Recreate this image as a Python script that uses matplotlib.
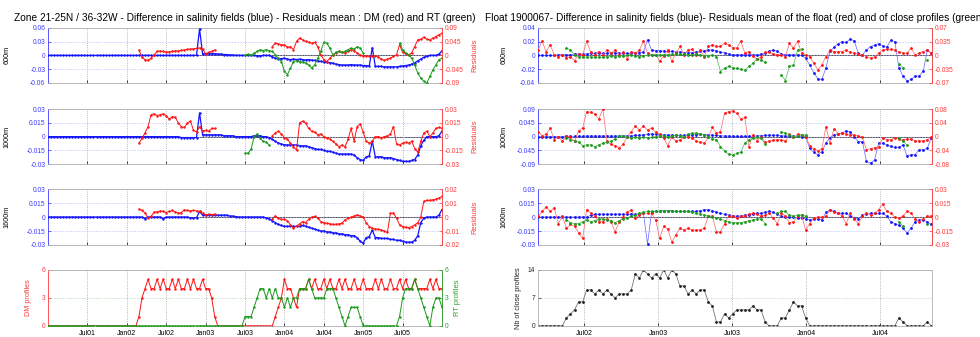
import numpy as np
import matplotlib
matplotlib.use("Agg")
import matplotlib.pyplot as plt

plt.rcParams["font.family"] = ["Liberation Sans", "DejaVu Sans"]
plt.rcParams["axes.unicode_minus"] = False

nan = np.nan

# ---------------- left panel: zone 21-25N / 36-32W (biweekly, 2001-2006)
zone_t = 2001 + np.arange(131) / 26.0

zone_blue_600 = ([0.0] * 50 +
    [0.058, 0.003, 0.004, 0.004, 0.004, 0.004, 0.003, 0.003, 0.002, 0.002,
     0.001, 0.001, 0.0, 0.0, 0.0, 0.0] +
    [0.0, 0.0, 0.0, -0.001, -0.001, 0.0, 0.0, 0.0] +
    [-0.003, -0.006, -0.007, -0.007, -0.006, -0.008, -0.009, -0.008, -0.009, -0.008,
     -0.009, -0.010, -0.009, -0.010, -0.011, -0.012, -0.013, -0.014, -0.015, -0.016,
     -0.017, -0.019, -0.020, -0.021, -0.021, -0.021, -0.020, -0.021, -0.021, -0.021,
     -0.022, -0.022, -0.023, 0.017, -0.024, -0.024, -0.024, -0.025, -0.025, -0.025,
     -0.025, -0.025, -0.024, -0.023, -0.022, -0.021, -0.019, -0.016, -0.012, -0.008,
     -0.004, -0.002, 0.0, 0.0, 0.0, 0.003, 0.010])
zone_red_600 = ([nan] * 30 +
    [0.018, -0.005, -0.014, -0.016, -0.009, 0.002, 0.013, 0.015, 0.013, 0.011,
     0.012, 0.013, 0.015, 0.015, 0.017, 0.018, 0.020, 0.021, 0.022, 0.023,
     0.025, 0.021, 0.005, 0.010, 0.013, 0.018] +
    [nan] * 18 +
    [0.029, 0.040, 0.038, 0.035, 0.035, 0.027, 0.029, 0.019, 0.046, 0.057,
     0.051, 0.046, 0.043, 0.040, 0.043, 0.029, 0.002, -0.014, -0.020, -0.009,
     0.002, 0.008, 0.013, 0.010, 0.008, 0.013, 0.019, 0.016, 0.008, 0.002,
     -0.003, -0.001, -0.003, -0.003, -0.001, -0.005, -0.012, -0.016, -0.012, -0.009,
     -0.003, 0.002, 0.035, 0.010, 0.005, 0.002, 0.008, 0.029, 0.051, 0.053,
     0.060, 0.053, 0.051, 0.057, 0.062, 0.068, 0.073])
zone_green_600 = ([nan] * 65 +
    [0.002, 0.004, 0.0, 0.008, 0.013, 0.019, 0.016, 0.019, 0.016, 0.013,
     0.002, -0.009, -0.020, -0.052, -0.063, -0.041, -0.020, -0.017, -0.020, -0.022,
     -0.025, -0.031, -0.041, -0.031, -0.009, 0.013, 0.043, 0.040, 0.024, 0.002,
     0.010, 0.013, 0.010, 0.013, 0.019, 0.024, 0.021, 0.029, 0.024, 0.008] +
    [nan] * 11 +
    [0.040, 0.019, 0.008, 0.002, -0.009, -0.031, -0.058, -0.074, -0.085, -0.090,
     -0.069, -0.047, -0.031, -0.014, -0.009])

zone_blue_1000 = ([0.0] * 44 + [-0.001] * 6 + [0.026] +
    [0.002] * 7 + [0.001] * 4 + [0.0, 0.0] +
    [0.0, 0.0, 0.0, 0.0, 0.001, 0.001, 0.001, 0.0, 0.0, -0.001] +
    [-0.003, -0.005, -0.007, -0.008, -0.009, -0.009, -0.009, -0.009, -0.009, -0.010,
     -0.010, -0.010, -0.011, -0.012, -0.013, -0.014, -0.014, -0.015, -0.016, -0.016,
     -0.017, -0.018, -0.019, -0.019, -0.019, -0.019, -0.019, -0.020, -0.023, -0.025,
     -0.026, -0.022, -0.021, -0.005, -0.022, -0.022, -0.022, -0.023, -0.023, -0.023,
     -0.024, -0.025, -0.026, -0.027, -0.027, -0.027, -0.026, -0.025, -0.020, -0.010,
     -0.004, 0.0, 0.0, 0.0, 0.0, 0.001, 0.006])
zone_red_1000 = ([nan] * 30 +
    [-0.007, -0.002, 0.004, 0.011, 0.024, 0.025, 0.023, 0.024, 0.025, 0.023,
     0.019, 0.022, 0.021, 0.015, 0.011, 0.010, 0.015, 0.017, 0.007, 0.005,
     0.011, 0.006, 0.007, 0.006, 0.009, 0.009] +
    [nan] * 18 +
    [0.001, 0.004, 0.006, 0.003, -0.001, -0.003, -0.007, -0.011, -0.015, 0.015,
     0.017, 0.015, 0.009, 0.006, 0.005, 0.002, 0.003, 0.0, -0.001, -0.003,
     -0.005, -0.008, -0.011, -0.009, -0.011, -0.003, 0.009, -0.005, 0.011, 0.014,
     0.005, -0.005, -0.007, -0.005, 0.0, 0.0, -0.001, 0.0, 0.001, 0.003,
     0.011, -0.008, -0.009, -0.007, -0.006, -0.007, -0.005, -0.013, -0.017, -0.005,
     0.004, 0.006, 0.0, 0.004, 0.009, 0.010, 0.009])
zone_green_1000 = ([nan] * 65 +
    [-0.018, -0.018, -0.014, 0.0, 0.003, -0.002, -0.005, -0.006, -0.009] +
    [nan] * 57)

zone_blue_1600 = ([0.0] * 32 + [-0.002] + [0.0] * 5 + [-0.002] + [0.0] * 8 +
    [-0.001] * 3 + [0.006] + [0.002] * 9 + [0.001, 0.001, 0.0005, 0.0, 0.0] +
    [0.0] * 7 + [-0.001] +
    [-0.002, -0.004, -0.006, -0.008, -0.009, -0.010, -0.010, -0.010, -0.010, -0.010,
     -0.010, -0.009, -0.010, -0.011, -0.012, -0.013, -0.014, -0.015, -0.015, -0.016,
     -0.016, -0.017, -0.017, -0.018, -0.018, -0.019, -0.019, -0.020, -0.020, -0.022,
     -0.026, -0.028, -0.022, -0.021, -0.014, -0.022, -0.022, -0.023, -0.023, -0.023,
     -0.024, -0.024, -0.025, -0.025, -0.026, -0.027, -0.027, -0.027, -0.025, -0.020,
     -0.006, -0.001, 0.0, 0.0, 0.0, 0.0, 0.002, 0.008])
zone_red_1600 = ([nan] * 30 +
    [0.0056, 0.0047, 0.0028, -0.0008, 0.0004, 0.0035, 0.0037, 0.0044, 0.0040, 0.0032,
     0.0040, 0.0047, 0.0037, 0.0028, 0.0032, 0.0052, 0.0047, 0.0044, 0.0047, 0.0044,
     0.0040, 0.0028, 0.0016, 0.0020, 0.0018, 0.0020] +
    [nan] * 18 +
    [-0.0016, 0.0008, -0.0010, -0.0016, -0.0016, -0.0025, -0.0056, -0.0080, -0.0064, -0.0049,
     -0.0032, -0.0040, -0.0016, -0.0001, 0.0004, -0.0008, -0.0032, -0.0040, -0.0044, -0.0049,
     -0.0052, -0.0052, -0.0049, -0.0044, -0.0020, -0.0008, -0.0001, 0.0008, 0.0016, 0.0008,
     0.0000, -0.0040, -0.0068, -0.0080, -0.0085, -0.0088, -0.0092, -0.0100, -0.0110, 0.0028,
     0.0028, -0.0008, -0.0056, -0.0068, -0.0073, -0.0076, -0.0068, -0.0056, -0.0040, -0.0001,
     0.0112, 0.0119, 0.0119, 0.0124, 0.0128, 0.0136, 0.0148])

zone_dm = ([0] * 30 +
    [1, 3, 4, 5, 4, 4, 5, 4, 5, 4, 4, 5, 4, 5, 4, 4, 5, 4, 5, 4, 4, 5, 4, 4, 3, 1] +
    [0] * 19 +
    [1, 2, 3, 5, 4, 4, 3, 2, 4, 4, 4, 5, 4, 5, 4, 4, 5, 4, 5, 4, 4, 5, 4, 5, 4, 4,
     5, 4, 4, 5, 4, 4, 4, 5, 4, 5, 4, 4, 5, 4, 4, 5, 4, 5, 4, 4, 5, 4, 4, 4, 4, 5,
     4, 5, 4, 4])
zone_rt = ([0] * 65 +
    [1, 1, 1, 2, 3, 4, 4, 3, 4, 3, 4, 3, 3, 2, 3, 2, 3, 3, 4, 4,
     4, 5, 4, 3, 3, 3, 3, 4, 4, 4, 3, 2, 1, 0, 1, 2, 2, 2, 1, 0] +
    [0] * 11 +
    [1, 3, 4, 4, 4, 5, 4, 3, 2, 1, 0, 2, 3, 3, 2])

zone_ticks = [2001.5, 2002.0, 2002.5, 2003.0, 2003.5, 2004.0, 2004.5, 2005.0, 2005.5]
zone_labels = ["Jul01", "Jan02", "Jul02", "Jan03", "Jul03", "Jan04", "Jul04", "Jan05", "Jul05"]

# ---------------- right panel: float 1900067 (10-day cycles)
float_t = 2002.19 + np.arange(98) * 10 / 365.25

float_blue_600 = [
    0, 0, 0, 0, 0, 0.001, 0.001, 0.001, 0.001, 0.002,
    0.002, 0.002, 0.002, 0.003, 0.003, 0.003, 0.003, 0.003, 0.004, 0.004,
    0.003, 0.003, 0.003, 0.003, 0.004, 0.004, 0.005, 0.023, 0.008, 0.007,
    0.007, 0.006, 0.006, 0.006, 0.005, 0.005, 0.004, 0.004, 0.004, 0.005,
    0.006, 0.007, 0.008, 0.008, 0.007, 0.005, 0.004, 0.002, 0.001, 0.001,
    0.001, 0.001, 0.001, 0.001, 0.001, 0.002, 0.003, 0.006, 0.008, 0.006,
    0.002, 0.001, 0.001, 0.001, 0.001, 0.0, -0.004, -0.014, -0.025, -0.034,
    -0.035, -0.018, 0.006, 0.012, 0.017, 0.020, 0.019, 0.024, 0.021, 0.003,
    0.001, 0.008, 0.013, 0.015, 0.017, 0.014, 0.012, 0.022, 0.020, -0.018,
    -0.030, -0.037, -0.035, -0.030, -0.030, -0.023, 0.008, 0.003]
float_red_600 = [
    0.014, 0.036, 0.010, 0.027, 0.002, -0.003, 0.002, -0.007, -0.003, -0.013,
    0.004, 0.002, 0.036, 0.008, 0.002, 0.010, 0.002, 0.014, 0.006, 0.014,
    0.002, 0.008, -0.009, 0.010, 0.006, 0.013, 0.036, 0.006, 0.002, 0.002,
    -0.015, -0.001, 0.014, -0.015, 0.006, 0.023, 0.002, 0.014, 0.016, 0.002,
    0.013, -0.003, 0.023, 0.027, 0.023, 0.023, 0.031, 0.027, 0.020, 0.019,
    0.036, 0.006, 0.010, -0.001, -0.009, -0.004, 0.008, 0.008, 0.004, 0.002,
    0.002, -0.003, 0.031, 0.019, 0.036, 0.006, 0.002, -0.003, -0.020, -0.036,
    -0.024, -0.003, 0.014, 0.010, 0.010, 0.010, 0.014, 0.008, 0.006, 0.004,
    0.002, -0.003, -0.007, -0.003, 0.006, 0.014, 0.016, 0.016, 0.014, 0.008,
    0.006, 0.006, 0.019, 0.002, 0.006, 0.010, 0.014, 0.006]
float_green_600 = [
    nan, nan, nan, nan, nan, nan, nan, 0.019, 0.014, 0.002,
    -0.003, -0.004, -0.004, -0.004, -0.005, -0.004, -0.005, -0.003, -0.001, -0.003,
    -0.001, -0.001, 0.001, 0.0, -0.001, -0.003, -0.001, 0.0, 0.002, 0.002,
    0.001, 0.002, 0.002, 0.003, 0.003, 0.003, 0.003, 0.002, 0.002, 0.003,
    0.002, -0.001, -0.001, 0.001, -0.003, -0.041, -0.032, -0.028, -0.031, -0.033,
    -0.035, -0.038, -0.028, -0.020, -0.008, -0.011, -0.016, nan, nan, nan,
    -0.049, -0.064, -0.028, -0.025, 0.014, 0.016, nan, nan, nan, nan,
    nan, nan, nan, nan, nan, nan, nan, nan, nan, nan,
    nan, nan, nan, nan, nan, nan, nan, nan, nan, -0.022,
    -0.032, nan, nan, nan, nan, nan, -0.011, nan]

float_blue_1000 = [
    0, 0, 0, 0, 0, 0, 0, 0.001, 0.001, 0.001,
    0.001, 0.001, 0.002, 0.002, 0.002, 0.002, 0.002, 0.002, 0.002, 0.002,
    0.002, 0.002, 0.003, 0.003, 0.004, 0.005, 0.006, 0.008, 0.009, 0.008,
    0.007, 0.006, 0.005, 0.005, 0.004, 0.004, 0.004, 0.005, 0.006, 0.007,
    0.008, 0.007, 0.006, 0.005, 0.004, 0.003, 0.002, 0.002, 0.001, 0.001,
    0.001, 0.001, 0.001, 0.002, 0.002, 0.003, 0.004, 0.005, 0.005, 0.004,
    0.003, 0.002, 0.001, 0.001, 0.001, 0.0, 0.0, -0.038, -0.051, -0.059,
    -0.049, -0.021, -0.003, 0.006, 0.008, 0.011, 0.019, 0.015, 0.0, -0.016,
    -0.016, -0.081, -0.087, -0.076, -0.021, -0.021, -0.027, -0.032, -0.035, -0.035,
    -0.027, -0.063, -0.059, -0.059, -0.043, -0.043, -0.038, -0.003]
float_red_1000 = [
    0.015, 0.003, 0.007, 0.025, -0.009, 0.0, -0.014, 0.003, -0.002, -0.014,
    0.017, 0.025, 0.073, 0.071, 0.065, 0.052, 0.081, -0.014, -0.022, -0.026,
    -0.032, -0.022, 0.0, 0.015, 0.030, 0.020, 0.030, 0.020, 0.025, 0.013,
    0.007, -0.004, -0.026, 0.0, -0.014, -0.009, -0.002, 0.0, -0.004, -0.012,
    -0.017, -0.019, -0.002, 0.027, 0.010, 0.015, 0.068, 0.073, 0.075, 0.068,
    0.052, 0.056, -0.029, 0.005, -0.012, 0.0, -0.017, -0.014, -0.010, -0.009,
    -0.009, -0.014, 0.007, -0.002, 0.007, 0.005, 0.0, -0.026, -0.036, -0.041,
    -0.035, 0.028, -0.019, 0.023, 0.009, 0.010, 0.007, 0.005, 0.005, 0.002,
    0.0, -0.038, -0.035, -0.032, -0.029, -0.004, -0.009, -0.009, -0.004, -0.007,
    -0.009, -0.007, -0.007, -0.012, -0.012, -0.012, -0.009, 0.0]
float_green_1000 = [
    nan, nan, nan, nan, nan, nan, nan, -0.004, -0.009, -0.012,
    -0.016, -0.026, -0.024, -0.024, -0.029, -0.024, -0.019, -0.016, -0.014, -0.006,
    0.003, 0.002, -0.002, -0.004, -0.002, -0.004, -0.002, -0.004, -0.002, 0.0,
    0.002, 0.003, 0.0, 0.001, 0.005, 0.003, 0.0, 0.007, 0.010, 0.010,
    0.008, 0.005, 0.0, -0.006, -0.009, -0.029, -0.041, -0.051, -0.053, -0.049,
    -0.045, -0.019, -0.009, -0.004, 0.0, -0.004, -0.022, nan, nan, nan,
    0.013, 0.010, 0.005, 0.0, 0.002, 0.005, 0.005, nan, nan, nan,
    nan, nan, nan, nan, nan, nan, nan, nan, nan, nan,
    nan, nan, nan, nan, nan, nan, nan, nan, nan, -0.004,
    -0.014, -0.024, nan, nan, nan, nan, nan, nan]

float_blue_1600 = [
    0, 0, 0, 0, 0, 0, 0, 0, 0, 0,
    0, 0, 0, 0.002, 0.003, 0.003, 0.003, 0.003, 0.003, 0.003,
    0.003, 0.003, 0.003, 0.003, 0.003, 0.003, 0.004, -0.029, 0.005, 0.006,
    0.006, 0.007, 0.007, 0.007, 0.006, 0.006, 0.006, 0.006, 0.006, 0.006,
    0.007, 0.008, 0.008, 0.007, 0.005, 0.004, 0.003, 0.002, 0.001, 0.001,
    0.001, 0.002, 0.002, 0.003, 0.004, 0.004, 0.005, 0.006, 0.005, 0.003,
    0.001, 0.0, 0.0, 0.0, -0.001, -0.001, -0.002, -0.003, -0.002, -0.002,
    -0.003, 0.005, 0.008, 0.006, 0.004, 0.004, 0.004, 0.001, -0.001, -0.002,
    0.002, 0.003, 0.004, 0.004, 0.004, 0.004, 0.001, -0.005, -0.007, -0.009,
    -0.012, -0.017, -0.012, -0.005, -0.003, -0.003, -0.005, -0.008]
float_red_1600 = [
    0.001, 0.006, 0.011, 0.006, 0.010, -0.007, 0.001, -0.012, -0.008, -0.010,
    -0.017, -0.023, 0.008, 0.004, 0.001, -0.005, -0.005, -0.002, -0.005, -0.016,
    -0.005, 0.0, 0.005, 0.008, -0.001, 0.002, 0.004, 0.004, 0.004, -0.003,
    -0.023, -0.010, -0.013, -0.027, -0.019, -0.012, -0.014, -0.012, -0.014, -0.014,
    -0.014, -0.012, 0.001, 0.001, -0.016, -0.016, -0.007, 0.001, 0.001, -0.001,
    0.001, 0.001, 0.003, 0.004, 0.003, 0.001, 0.002, 0.004, -0.001, -0.007,
    0.004, 0.001, -0.006, -0.005, 0.001, 0.002, -0.014, -0.007, -0.001, 0.0,
    0.0, 0.001, 0.008, 0.005, 0.004, 0.001, -0.007, 0.004, -0.002, -0.007,
    0.001, 0.004, 0.002, 0.004, 0.008, 0.014, 0.006, 0.004, 0.0, -0.001,
    0.001, 0.006, 0.004, -0.002, -0.005, -0.002, 0.001, 0.001]
float_green_1600 = [
    nan, nan, nan, nan, nan, nan, nan, -0.003, -0.006, -0.007,
    -0.007, -0.005, -0.003, -0.005, -0.004, -0.002, -0.002, -0.003, -0.004, -0.006,
    -0.004, -0.002, -0.001, 0.001, 0.002, 0.004, 0.005, 0.006, 0.006, 0.006,
    0.006, 0.007, 0.007, 0.006, 0.006, 0.006, 0.006, 0.006, 0.005, 0.004,
    0.003, 0.002, 0.001, 0.0, -0.001, -0.002, -0.004, -0.005, -0.006, -0.006,
    -0.006, -0.005, -0.004, -0.003, -0.002, -0.002, -0.007, nan, nan, 0.004,
    0.006, 0.006, 0.002, 0.001, 0.002, 0.002, 0.001, nan, nan, nan,
    nan, nan, nan, nan, nan, nan, nan, nan, nan, nan,
    nan, nan, nan, nan, nan, nan, nan, nan, nan, -0.005,
    -0.010, nan, nan, nan, nan, nan, -0.008, nan]

float_close = [
    0, 0, 0, 0, 0, 0, 0, 2, 3, 4,
    6, 6, 9, 9, 8, 9, 8, 9, 8, 7,
    8, 8, 8, 9, 13, 12, 14, 13, 12, 13,
    12, 14, 12, 14, 13, 10, 10, 8, 9, 8,
    9, 9, 6, 5, 1, 1, 3, 2, 3, 4,
    4, 4, 4, 5, 4, 4, 1, 0, 0, 0,
    2, 2, 4, 6, 5, 5, 2, 0, 0, 0,
    0, 0, 0, 0, 0, 0, 0, 0, 0, 0,
    0, 0, 0, 0, 0, 0, 0, 0, 0, 2,
    1, 0, 0, 0, 0, 0, 1, 0]

float_ticks = [2002.5, 2003.0, 2003.5, 2004.0, 2004.5]
float_labels = ["Jul02", "Jan03", "Jul03", "Jan04", "Jul04"]

BLUE, RED, GREEN = "#1414ff", "#ff1414", "#1a9a1a"
TICK_FS = 4.8
TITLE_FS = 7.3


def base_axes(fig, rect, xlim, xticks, xlabels, show_xlabels):
    ax = fig.add_axes(rect)
    ax.set_xlim(*xlim)
    ax.set_xticks(xticks)
    ax.set_xticklabels(xlabels if show_xlabels else [])
    ax.grid(axis="x", ls=":", color="#a0a0a0", lw=0.6)
    ax.grid(axis="y", ls=(0, (2, 2)), color="#b8b8ff", lw=0.5)
    ax.tick_params(direction="in", length=2, width=0.5, labelsize=TICK_FS, pad=2)
    ax.tick_params(axis="x", labelsize=5.0, pad=3)
    for s in ax.spines.values():
        s.set_color("#b0b0b0")
        s.set_linewidth(0.6)
    return ax


def set_left(ax, lim, ticks, labels, color, ylabel, lcolor, lx):
    ax.set_ylim(*lim)
    ax.set_yticks(ticks)
    ax.set_yticklabels(labels)
    ax.tick_params(axis="y", colors=color, labelcolor=color)
    ax.spines["left"].set_color(color)
    ax.set_ylabel(ylabel, fontsize=5.2, color=lcolor)
    ax.yaxis.set_label_coords(lx, 0.5)


def set_right(ax2, lim, ticks, labels, color, ylabel, lx):
    ax2.set_ylim(*lim)
    ax2.set_yticks(ticks)
    ax2.set_yticklabels(labels)
    ax2.tick_params(direction="in", length=2, width=0.5, labelsize=TICK_FS, pad=2,
                    colors=color, labelcolor=color)
    for s in ax2.spines.values():
        s.set_visible(False)
    ax2.spines["right"].set_visible(True)
    ax2.spines["right"].set_color(color)
    ax2.spines["right"].set_linewidth(0.6)
    if ylabel:
        ax2.set_ylabel(ylabel, fontsize=5.4, color=color, rotation=90)
        ax2.yaxis.set_label_coords(lx, 0.5)


fig = plt.figure(figsize=(9.8, 3.37), dpi=100)

LX, RX, W = 0.049, 0.549, 0.402
bottoms = [0.754, 0.513, 0.273, 0.033]
heights = [0.163, 0.163, 0.166, 0.166]
lblue, lred = "#3a3aff", "#ff3a3a"
zkw = dict(marker=".", ms=1.5)
fkw = dict(lw=0.55, marker=".", ms=2.0)

zone_rows = [
    ("600m", zone_blue_600, zone_red_600, zone_green_600,
     (-0.06, 0.06), [-0.06, -0.03, 0, 0.03, 0.06], ["-0.06", "-0.03", "0", "0.03", "0.06"],
     (-0.09, 0.09), [-0.09, -0.045, 0, 0.045, 0.09], ["-0.09", "-0.045", "0", "0.045", "0.09"]),
    ("1000m", zone_blue_1000, zone_red_1000, zone_green_1000,
     (-0.03, 0.03), [-0.03, -0.015, 0, 0.015, 0.03], ["-0.03", "-0.015", "0", "0.015", "0.03"],
     (-0.03, 0.03), [-0.03, -0.015, 0, 0.015, 0.03], ["-0.03", "-0.015", "0", "0.015", "0.03"]),
    ("1600m", zone_blue_1600, zone_red_1600, None,
     (-0.03, 0.03), [-0.03, -0.015, 0, 0.015, 0.03], ["-0.03", "-0.015", "0", "0.015", "0.03"],
     (-0.02, 0.02), [-0.02, -0.01, 0, 0.01, 0.02], ["-0.02", "-0.01", "0", "0.01", "0.02"]),
]

for i, (name, blue, red, green, ylim, yt, yl, rlim, rt, rl) in enumerate(zone_rows):
    ax = base_axes(fig, [LX, bottoms[i], W, heights[i]], (2001.0, 2006.0),
                   zone_ticks, zone_labels, False)
    ax.axhline(0, color="#303030", lw=0.6, zorder=1)
    ax.plot(zone_t, blue, color=BLUE, lw=0.9, zorder=3, **zkw)
    set_left(ax, ylim, yt, yl, lblue, name, "black", -0.095)
    ax2 = ax.twinx()
    ax2.plot(zone_t, red, color=RED, lw=0.7, **zkw)
    if green is not None:
        ax2.plot(zone_t, green, color=GREEN, lw=0.7, **zkw)
    set_right(ax2, rlim, rt, rl, lred, "Residuals", 1.075)
    if i == 0:
        ax.set_title("Zone 21-25N / 36-32W - Difference in salinity fields (blue) - "
                     "Residuals mean : DM (red) and RT (green)", fontsize=TITLE_FS, pad=5)

ax = base_axes(fig, [LX, bottoms[3], W, heights[3]], (2001.0, 2006.0),
               zone_ticks, zone_labels, True)
ax.plot(zone_t, zone_dm, color=RED, lw=0.7, **zkw)
set_left(ax, (0, 6), [0, 3, 6], ["0", "3", "6"], lred, "DM profiles", lred, -0.04)
ax.grid(axis="y", ls=(0, (2, 2)), color="#a8d8a8", lw=0.5)
ax2 = ax.twinx()
ax2.plot(zone_t, zone_rt, color=GREEN, lw=0.7, **zkw)
set_right(ax2, (0, 6), [0, 3, 6], ["0", "3", "6"], "#2aa02a", "RT profiles", 1.03)

float_rows = [
    ("600m", float_blue_600, float_red_600, float_green_600,
     (-0.04, 0.04), [-0.04, -0.02, 0, 0.02, 0.04], ["-0.04", "-0.02", "0", "0.02", "0.04"],
     (-0.07, 0.07), [-0.07, -0.035, 0, 0.035, 0.07], ["-0.07", "-0.035", "0", "0.035", "0.07"]),
    ("1000m", float_blue_1000, float_red_1000, float_green_1000,
     (-0.09, 0.09), [-0.09, -0.045, 0, 0.045, 0.09], ["-0.09", "-0.045", "0", "0.045", "0.09"],
     (-0.08, 0.08), [-0.08, -0.04, 0, 0.04, 0.08], ["-0.08", "-0.04", "0", "0.04", "0.08"]),
    ("1600m", float_blue_1600, float_red_1600, float_green_1600,
     (-0.03, 0.03), [-0.03, -0.015, 0, 0.015, 0.03], ["-0.03", "-0.015", "0", "0.015", "0.03"],
     (-0.03, 0.03), [-0.03, -0.015, 0, 0.015, 0.03], ["-0.03", "-0.015", "0", "0.015", "0.03"]),
]

for i, (name, blue, red, green, ylim, yt, yl, rlim, rt, rl) in enumerate(float_rows):
    ax = base_axes(fig, [RX, bottoms[i], W, heights[i]], (2002.19, 2004.85),
                   float_ticks, float_labels, False)
    ax.axhline(0, color="#303030", lw=0.6, zorder=1)
    ax.plot(float_t, blue, color="#7070ff", mfc=BLUE, mec=BLUE, zorder=3, **fkw)
    set_left(ax, ylim, yt, yl, lblue, name, "black", -0.078)
    ax2 = ax.twinx()
    ax2.plot(float_t, red, color="#ff7070", mfc=RED, mec=RED, **fkw)
    ax2.plot(float_t, green, color="#60b860", mfc=GREEN, mec=GREEN, **fkw)
    set_right(ax2, rlim, rt, rl, lred, None, 1.0)
    if i == 0:
        ax.set_title("Float 1900067- Difference in salinity fields (blue)- Residuals mean "
                     "of the float (red) and of close profiles (green)", fontsize=TITLE_FS, pad=5)

ax = base_axes(fig, [RX, bottoms[3], W, heights[3]], (2002.19, 2004.85),
               float_ticks, float_labels, True)
ax.plot(float_t, float_close, color="#6a6a6a", mfc="#222222", mec="#222222", **fkw)
set_left(ax, (0, 14), [0, 7, 14], ["0", "7", "14"], "#222222",
         "Nb of close profiles", "#222222", -0.04)
ax.grid(axis="y", ls=(0, (2, 2)), color="#c8c8c8", lw=0.5)
ax.spines["left"].set_color("#b0b0b0")

fig.savefig("out.png", dpi=100)
